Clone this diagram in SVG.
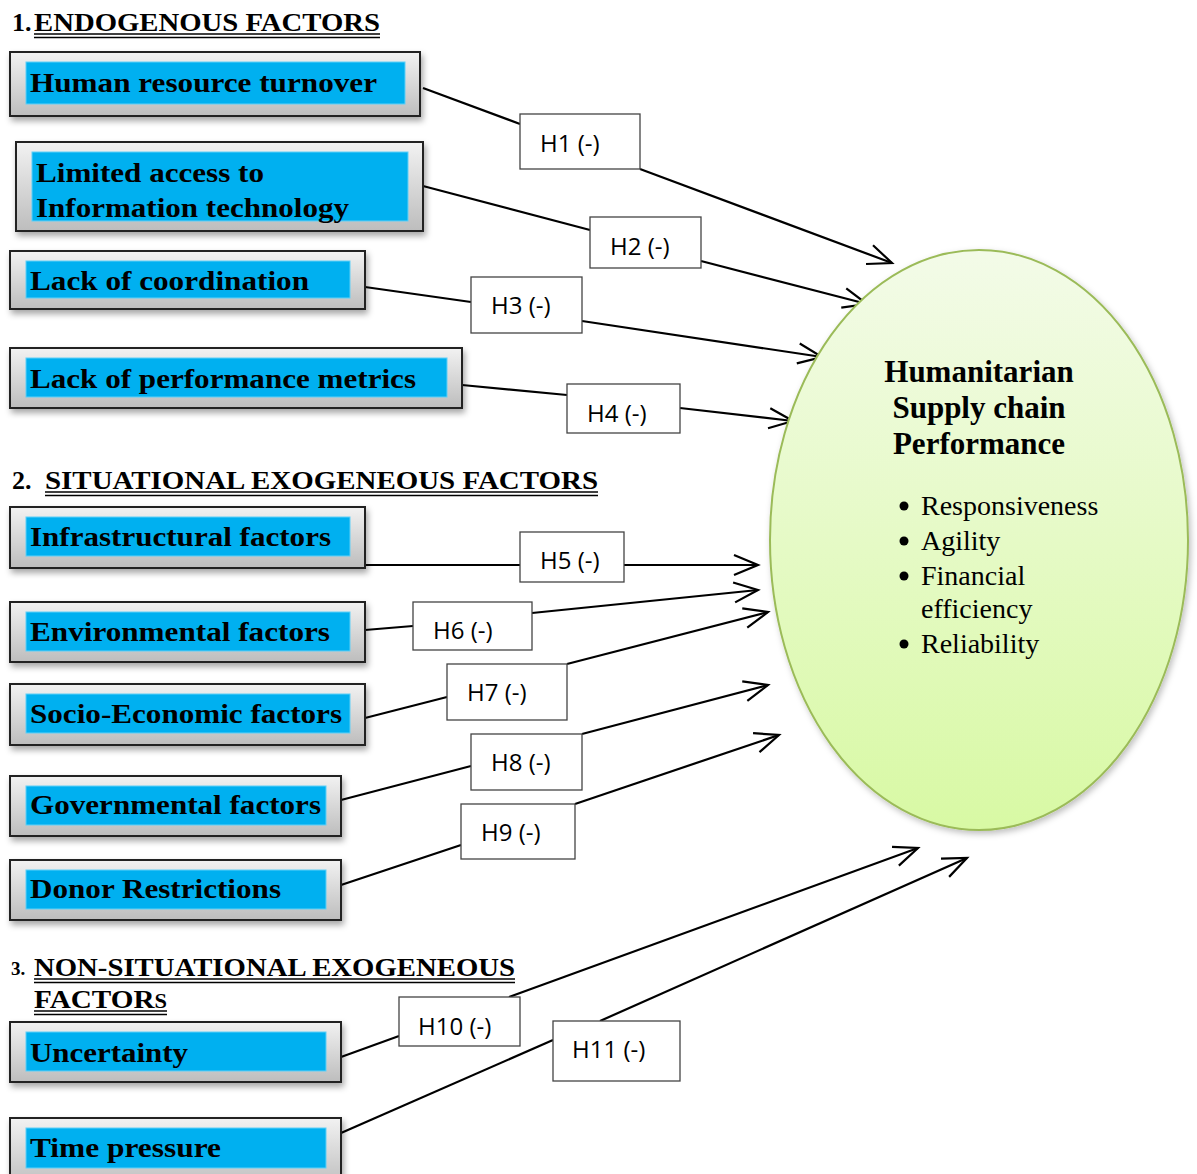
<svg xmlns="http://www.w3.org/2000/svg" width="1197" height="1174" viewBox="0 0 1197 1174">
<style>
.ob{fill:url(#gg);stroke:#222;stroke-width:2;filter:url(#sh)}
.ib{fill:#00B0F0;stroke:#5fd0f8;stroke-width:1}
.bt{font-family:"Liberation Serif","Times New Roman",serif;font-weight:bold;font-size:28px;fill:#000}
.hd{font-family:"Liberation Serif","Times New Roman",serif;font-weight:bold;font-size:26px;fill:#000}
.ul{stroke:#000;stroke-width:1.5}
.lb{fill:#fff;stroke:#444;stroke-width:1.3}
.lt{font-family:"Open Sans","Liberation Sans",sans-serif;font-size:24px;fill:#000}
.cn{stroke:#000;stroke-width:2.2;fill:none}
.ar{marker-end:url(#ah)}
.et{font-family:"Liberation Serif","Times New Roman",serif;font-weight:bold;font-size:31px;fill:#000;text-anchor:middle}
.bl{font-family:"Liberation Serif","Times New Roman",serif;font-size:28px;fill:#000}
</style>
<defs>
<linearGradient id="gg" x1="0" y1="0" x2="0" y2="1">
<stop offset="0" stop-color="#f2f2f2"/><stop offset="1" stop-color="#bdbdbd"/>
</linearGradient>
<linearGradient id="eg" x1="0" y1="0" x2="0" y2="1">
<stop offset="0" stop-color="#f3fbe8"/><stop offset="1" stop-color="#d8f9a4"/>
</linearGradient>
<filter id="sh" x="-5%" y="-20%" width="115%" height="150%">
<feDropShadow dx="2" dy="4" stdDeviation="3" flood-color="#000" flood-opacity="0.35"/>
</filter>
<filter id="esh" x="-10%" y="-10%" width="120%" height="120%">
<feDropShadow dx="2" dy="3" stdDeviation="3" flood-color="#000" flood-opacity="0.25"/>
</filter>
<marker id="ah" markerUnits="userSpaceOnUse" markerWidth="30" markerHeight="30" refX="26" refY="12" orient="auto">
<path d="M2,2 L26,12 L2,22" fill="none" stroke="#000" stroke-width="2.2"/>
</marker>
</defs>

<g id="headings">
<text class="hd" x="12" y="31">1.</text>
<text class="hd" x="34" y="31" textLength="346" lengthAdjust="spacingAndGlyphs">ENDOGENOUS FACTORS</text>
<line class="ul" x1="34" y1="34" x2="380" y2="34"/><line class="ul" x1="34" y1="37.5" x2="380" y2="37.5"/>
<text class="hd" x="12" y="489">2.</text>
<text class="hd" x="45" y="489" textLength="553" lengthAdjust="spacingAndGlyphs">SITUATIONAL EXOGENEOUS FACTORS</text>
<line class="ul" x1="45" y1="492" x2="598" y2="492"/><line class="ul" x1="45" y1="495.5" x2="598" y2="495.5"/>
<text class="hd" x="11" y="975" style="font-size:19px">3.</text>
<text class="hd" x="34" y="976" textLength="481" lengthAdjust="spacingAndGlyphs">NON-SITUATIONAL EXOGENEOUS</text>
<line class="ul" x1="34" y1="979" x2="515" y2="979"/><line class="ul" x1="34" y1="982.5" x2="515" y2="982.5"/>
<text class="hd" x="34" y="1008" textLength="133" lengthAdjust="spacingAndGlyphs">FACTOR<tspan style="font-size:20px">S</tspan></text>
<line class="ul" x1="34" y1="1011" x2="167" y2="1011"/><line class="ul" x1="34" y1="1014.5" x2="167" y2="1014.5"/>
</g>

<g id="connectors">
<line class="cn" x1="423" y1="88" x2="520" y2="124"/>
<line class="cn ar" x1="640" y1="169" x2="892" y2="263"/>
<line class="cn" x1="423" y1="186" x2="590" y2="230"/>
<line class="cn ar" x1="701" y1="261" x2="867" y2="304"/>
<line class="cn" x1="365" y1="287" x2="471" y2="302"/>
<line class="cn ar" x1="582" y1="321" x2="822" y2="357"/>
<line class="cn" x1="462" y1="385" x2="567" y2="395"/>
<line class="cn ar" x1="680" y1="408" x2="793" y2="421"/>
<line class="cn" x1="365" y1="565" x2="520" y2="565"/>
<line class="cn ar" x1="624" y1="565" x2="758" y2="565"/>
<line class="cn" x1="365" y1="630" x2="413" y2="626"/>
<line class="cn ar" x1="532" y1="613" x2="758" y2="590"/>
<line class="cn" x1="365" y1="718" x2="447" y2="697"/>
<line class="cn ar" x1="567" y1="664" x2="768" y2="612"/>
<line class="cn" x1="341" y1="800" x2="471" y2="766"/>
<line class="cn ar" x1="582" y1="734" x2="768" y2="685"/>
<line class="cn" x1="341" y1="885" x2="461" y2="845"/>
<line class="cn ar" x1="575" y1="804" x2="779" y2="735"/>
<line class="cn" x1="341" y1="1057" x2="399" y2="1036"/>
<line class="cn ar" x1="509" y1="997" x2="918" y2="848"/>
<line class="cn" x1="341" y1="1133" x2="553" y2="1040"/>
<line class="cn ar" x1="600" y1="1021" x2="967" y2="858"/>
</g>

<g id="n1"><rect class="ob" x="10" y="52" width="410" height="64"/><rect class="ib" x="26" y="62" width="379" height="42"/><text class="bt" x="30" y="92" textLength="347" lengthAdjust="spacingAndGlyphs">Human resource turnover</text></g>
<g id="n2"><rect class="ob" x="16" y="142" width="407" height="89"/><rect class="ib" x="32" y="152" width="376" height="69"/><text class="bt" x="36" y="182" textLength="228" lengthAdjust="spacingAndGlyphs">Limited access to</text><text class="bt" x="36" y="217" textLength="313" lengthAdjust="spacingAndGlyphs">Information technology</text></g>
<g id="n3"><rect class="ob" x="10" y="251" width="355" height="58"/><rect class="ib" x="26" y="261" width="324" height="37"/><text class="bt" x="30" y="290" textLength="279" lengthAdjust="spacingAndGlyphs">Lack of coordination</text></g>
<g id="n4"><rect class="ob" x="10" y="348" width="452" height="60"/><rect class="ib" x="26" y="358" width="421" height="39"/><text class="bt" x="30" y="388" textLength="386" lengthAdjust="spacingAndGlyphs">Lack of performance metrics</text></g>
<g id="n5"><rect class="ob" x="10" y="507" width="355" height="61"/><rect class="ib" x="26" y="517" width="324" height="39"/><text class="bt" x="30" y="546" textLength="301" lengthAdjust="spacingAndGlyphs">Infrastructural factors</text></g>
<g id="n6"><rect class="ob" x="10" y="602" width="355" height="60"/><rect class="ib" x="26" y="612" width="324" height="39"/><text class="bt" x="30" y="641" textLength="300" lengthAdjust="spacingAndGlyphs">Environmental factors</text></g>
<g id="n7"><rect class="ob" x="10" y="684" width="355" height="61"/><rect class="ib" x="26" y="694" width="324" height="39"/><text class="bt" x="30" y="723" textLength="312" lengthAdjust="spacingAndGlyphs">Socio-Economic factors</text></g>
<g id="n8"><rect class="ob" x="10" y="776" width="331" height="60"/><rect class="ib" x="26" y="786" width="300" height="39"/><text class="bt" x="30" y="814" textLength="291" lengthAdjust="spacingAndGlyphs">Governmental factors</text></g>
<g id="n9"><rect class="ob" x="10" y="860" width="331" height="60"/><rect class="ib" x="26" y="870" width="300" height="39"/><text class="bt" x="30" y="898" textLength="251" lengthAdjust="spacingAndGlyphs">Donor Restrictions</text></g>
<g id="n10"><rect class="ob" x="10" y="1022" width="331" height="60"/><rect class="ib" x="26" y="1032" width="300" height="39"/><text class="bt" x="30" y="1062" textLength="158" lengthAdjust="spacingAndGlyphs">Uncertainty</text></g>
<g id="n11"><rect class="ob" x="10" y="1118" width="331" height="70"/><rect class="ib" x="26" y="1128" width="300" height="40"/><text class="bt" x="30" y="1157" textLength="191" lengthAdjust="spacingAndGlyphs">Time pressure</text></g>

<g id="performance">
<ellipse cx="979" cy="540" rx="209" ry="290" fill="url(#eg)" stroke="#9bbb59" stroke-width="2" filter="url(#esh)"/>
<text class="et" x="979" y="382">Humanitarian</text>
<text class="et" x="979" y="418">Supply chain</text>
<text class="et" x="979" y="454">Performance</text>
<circle cx="904" cy="506" r="4.5"/><text class="bl" x="921" y="515">Responsiveness</text>
<circle cx="904" cy="541" r="4.5"/><text class="bl" x="921" y="550">Agility</text>
<circle cx="904" cy="576" r="4.5"/><text class="bl" x="921" y="585">Financial</text>
<text class="bl" x="921" y="618">efficiency</text>
<circle cx="904" cy="644" r="4.5"/><text class="bl" x="921" y="653">Reliability</text>
</g>

<g id="labels">
<g id="h1"><rect class="lb" x="520" y="114" width="120" height="55"/><text class="lt" x="540" y="152">H1 (-)</text></g>
<g id="h2"><rect class="lb" x="590" y="217" width="111" height="51"/><text class="lt" x="610" y="255">H2 (-)</text></g>
<g id="h3"><rect class="lb" x="471" y="277" width="111" height="56"/><text class="lt" x="491" y="314">H3 (-)</text></g>
<g id="h4"><rect class="lb" x="567" y="384" width="113" height="49"/><text class="lt" x="587" y="422">H4 (-)</text></g>
<g id="h5"><rect class="lb" x="520" y="532" width="104" height="50"/><text class="lt" x="540" y="569">H5 (-)</text></g>
<g id="h6"><rect class="lb" x="413" y="602" width="119" height="48"/><text class="lt" x="433" y="639">H6 (-)</text></g>
<g id="h7"><rect class="lb" x="447" y="664" width="120" height="56"/><text class="lt" x="467" y="701">H7 (-)</text></g>
<g id="h8"><rect class="lb" x="471" y="734" width="111" height="56"/><text class="lt" x="491" y="771">H8 (-)</text></g>
<g id="h9"><rect class="lb" x="461" y="804" width="114" height="55"/><text class="lt" x="481" y="841">H9 (-)</text></g>
<g id="h10"><rect class="lb" x="399" y="997" width="121" height="49"/><text class="lt" x="418" y="1035">H10 (-)</text></g>
<g id="h11"><rect class="lb" x="553" y="1021" width="127" height="60"/><text class="lt" x="572" y="1058">H11 (-)</text></g>
</g>
</svg>
